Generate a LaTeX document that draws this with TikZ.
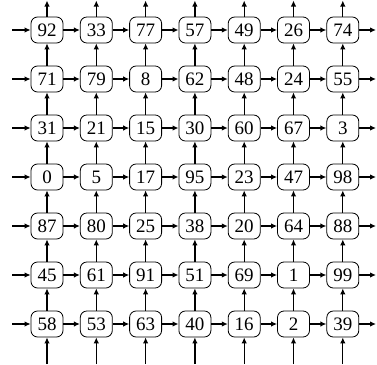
\documentclass[tikz,border=0pt]{standalone}
\usepackage{fontspec}
\setmainfont{Liberation Serif}
\usetikzlibrary{arrows.meta}
\begin{document}
\begin{tikzpicture}[x=1pt,y=-1pt,
 cell/.style={draw,rounded corners=6.5pt,minimum width=32pt,minimum height=26pt,inner sep=1pt,line width=0.8pt,font=\fontsize{19}{22}\selectfont},
 link/.style={-{Latex[length=6pt,width=5.5pt]},line width=1.2pt}]
\useasboundingbox (0,0) rectangle (377,364);
\foreach \row [count=\r] in {{92,33,77,57,49,26,74},{71,79,8,62,48,24,55},{31,21,15,30,60,67,3},{0,5,17,95,23,47,98},{87,80,25,38,20,64,88},{45,61,91,51,69,1,99},{58,53,63,40,16,2,39}}{
  \foreach \v [count=\c] in \row {
    \node[cell] (n-\r-\c) at ({47+49.3*(\c-1)},{30+49*(\r-1)}) {\v};
  }
}
\foreach \r in {1,...,7}{
  \coordinate (L-\r) at (12,{30+49*(\r-1)});
  \coordinate (R-\r) at (376,{30+49*(\r-1)});
  \draw[link] (L-\r) -- (n-\r-1);
  \foreach \c [evaluate=\c as \d using int(\c+1)] in {1,...,6}
    \draw[link] (n-\r-\c) -- (n-\r-\d);
  \draw[link] (n-\r-7) -- (R-\r);
}
\foreach \c in {1,...,7}{
  \coordinate (B-\c) at ({47+49.3*(\c-1)},364);
  \coordinate (T-\c) at ({47+49.3*(\c-1)},0.5);
  \draw[link] (B-\c) -- (n-7-\c);
  \foreach \r [evaluate=\r as \u using int(\r-1)] in {2,...,7}
    \draw[link] (n-\r-\c) -- (n-\u-\c);
  \draw[link] (n-1-\c) -- (T-\c);
}
\end{tikzpicture}
\end{document}
